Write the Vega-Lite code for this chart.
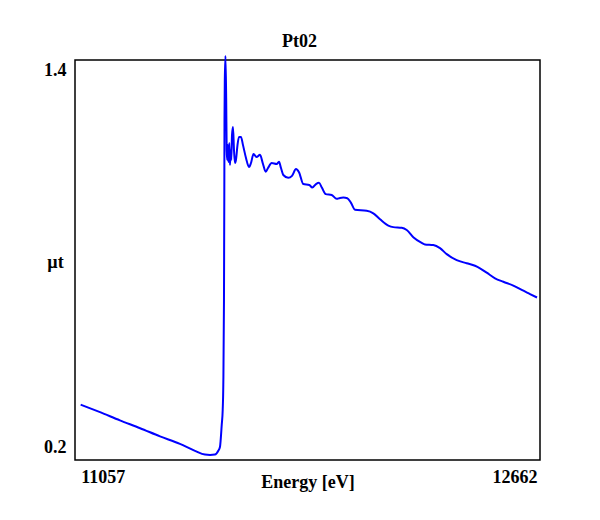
{
  "$schema": "https://vega.github.io/schema/vega-lite/v6.json",
  "autosize": "none",
  "width": 465,
  "height": 400,
  "padding": {"left": 75, "top": 60, "right": 60, "bottom": 60},
  "background": "white",
  "title": {
    "text": "Pt02",
    "font": "Liberation Serif",
    "fontSize": 18,
    "fontWeight": "bold",
    "color": "black",
    "frame": "group",
    "anchor": "middle",
    "dx": -8,
    "offset": 1
  },
  "config": {
    "view": {"stroke": "black", "strokeWidth": 1.5},
    "axis": {
      "labelFont": "Liberation Serif",
      "labelFontSize": 18,
      "labelFontWeight": "bold",
      "labelColor": "black",
      "titleFont": "Liberation Serif",
      "titleFontSize": 18,
      "titleFontWeight": "bold",
      "titleColor": "black",
      "ticks": false,
      "domain": false,
      "grid": false
    }
  },
  "data": {
    "values": [
      {"energy": 11057, "mut": 0.338},
      {"energy": 11125, "mut": 0.314},
      {"energy": 11195, "mut": 0.288},
      {"energy": 11266, "mut": 0.263},
      {"energy": 11336, "mut": 0.237},
      {"energy": 11406, "mut": 0.213},
      {"energy": 11459, "mut": 0.191},
      {"energy": 11494, "mut": 0.179},
      {"energy": 11512, "mut": 0.178},
      {"energy": 11529, "mut": 0.179},
      {"energy": 11541, "mut": 0.191},
      {"energy": 11547, "mut": 0.204},
      {"energy": 11549.4, "mut": 0.226},
      {"energy": 11553, "mut": 0.273},
      {"energy": 11556.5, "mut": 0.321},
      {"energy": 11558.6, "mut": 0.401},
      {"energy": 11561, "mut": 0.671},
      {"energy": 11562.1, "mut": 0.989},
      {"energy": 11562.8, "mut": 1.244},
      {"energy": 11563.9, "mut": 1.371},
      {"energy": 11566.3, "mut": 1.448},
      {"energy": 11568.8, "mut": 1.308},
      {"energy": 11570.5, "mut": 1.148},
      {"energy": 11572.3, "mut": 1.117},
      {"energy": 11574.4, "mut": 1.164},
      {"energy": 11576.9, "mut": 1.110},
      {"energy": 11579.7, "mut": 1.171},
      {"energy": 11582.1, "mut": 1.101},
      {"energy": 11584.6, "mut": 1.148},
      {"energy": 11586.7, "mut": 1.117},
      {"energy": 11589.2, "mut": 1.196},
      {"energy": 11592.7, "mut": 1.222},
      {"energy": 11596.2, "mut": 1.148},
      {"energy": 11599.7, "mut": 1.107},
      {"energy": 11603.2, "mut": 1.117},
      {"energy": 11608.5, "mut": 1.164},
      {"energy": 11613.8, "mut": 1.190},
      {"energy": 11620.8, "mut": 1.190},
      {"energy": 11627.9, "mut": 1.164},
      {"energy": 11638.4, "mut": 1.123},
      {"energy": 11649, "mut": 1.094},
      {"energy": 11656, "mut": 1.107},
      {"energy": 11664.8, "mut": 1.136},
      {"energy": 11675.4, "mut": 1.126},
      {"energy": 11687.7, "mut": 1.133},
      {"energy": 11698.2, "mut": 1.104},
      {"energy": 11707.7, "mut": 1.079},
      {"energy": 11715.8, "mut": 1.091},
      {"energy": 11728.8, "mut": 1.107},
      {"energy": 11746.4, "mut": 1.104},
      {"energy": 11754.5, "mut": 1.111},
      {"energy": 11761.5, "mut": 1.091},
      {"energy": 11769.6, "mut": 1.069},
      {"energy": 11787.2, "mut": 1.060},
      {"energy": 11800.2, "mut": 1.066},
      {"energy": 11814.3, "mut": 1.088},
      {"energy": 11824.8, "mut": 1.078},
      {"energy": 11840, "mut": 1.040},
      {"energy": 11861.1, "mut": 1.037},
      {"energy": 11871.6, "mut": 1.029},
      {"energy": 11884.6, "mut": 1.040},
      {"energy": 11895.2, "mut": 1.044},
      {"energy": 11905.7, "mut": 1.028},
      {"energy": 11918.8, "mut": 1.008},
      {"energy": 11939.9, "mut": 1.005},
      {"energy": 11957.5, "mut": 0.993},
      {"energy": 11969.1, "mut": 0.996},
      {"energy": 11980.7, "mut": 0.997},
      {"energy": 11994.7, "mut": 0.995},
      {"energy": 12007.8, "mut": 0.980},
      {"energy": 12021.8, "mut": 0.958},
      {"energy": 12063, "mut": 0.955},
      {"energy": 12086.2, "mut": 0.947},
      {"energy": 12109.8, "mut": 0.928},
      {"energy": 12139, "mut": 0.908},
      {"energy": 12156.5, "mut": 0.903},
      {"energy": 12186.1, "mut": 0.901},
      {"energy": 12203.7, "mut": 0.894},
      {"energy": 12226.9, "mut": 0.871},
      {"energy": 12256.4, "mut": 0.853},
      {"energy": 12268, "mut": 0.848},
      {"energy": 12297.2, "mut": 0.846},
      {"energy": 12320.8, "mut": 0.836},
      {"energy": 12344.4, "mut": 0.817},
      {"energy": 12379.5, "mut": 0.798},
      {"energy": 12414.7, "mut": 0.788},
      {"energy": 12443.9, "mut": 0.780},
      {"energy": 12461.5, "mut": 0.772},
      {"energy": 12485, "mut": 0.758},
      {"energy": 12514.3, "mut": 0.740},
      {"energy": 12543.5, "mut": 0.729},
      {"energy": 12578.6, "mut": 0.717},
      {"energy": 12608.2, "mut": 0.703},
      {"energy": 12637.4, "mut": 0.690},
      {"energy": 12662, "mut": 0.679}
    ]
  },
  "mark": {"type": "line", "color": "#0000ff", "strokeWidth": 2, "clip": false, "interpolate": "monotone"},
  "encoding": {
    "x": {
      "field": "energy",
      "type": "quantitative",
      "scale": {"domain": [11037, 12672.5], "nice": false, "zero": false},
      "axis": {
        "title": "Energy [eV]",
        "values": [11057, 12662],
        "format": "d",
        "labelAlign": {"condition": {"test": "datum.value < 12000", "value": "left"}, "value": "right"},
        "labelPadding": 8,
        "titleY": 13,
        "titleBaseline": "top"
      }
    },
    "y": {
      "field": "mut",
      "type": "quantitative",
      "scale": {"domain": [0.1618, 1.4349], "nice": false, "zero": false},
      "axis": {
        "title": "µt",
        "values": [0.2, 1.4],
        "format": ".1f",
        "labelPadding": 9,
        "titleAngle": 0,
        "titleX": -20,
        "titleY": 202,
        "titleAlign": "center",
        "titleBaseline": "middle"
      }
    }
  }
}
